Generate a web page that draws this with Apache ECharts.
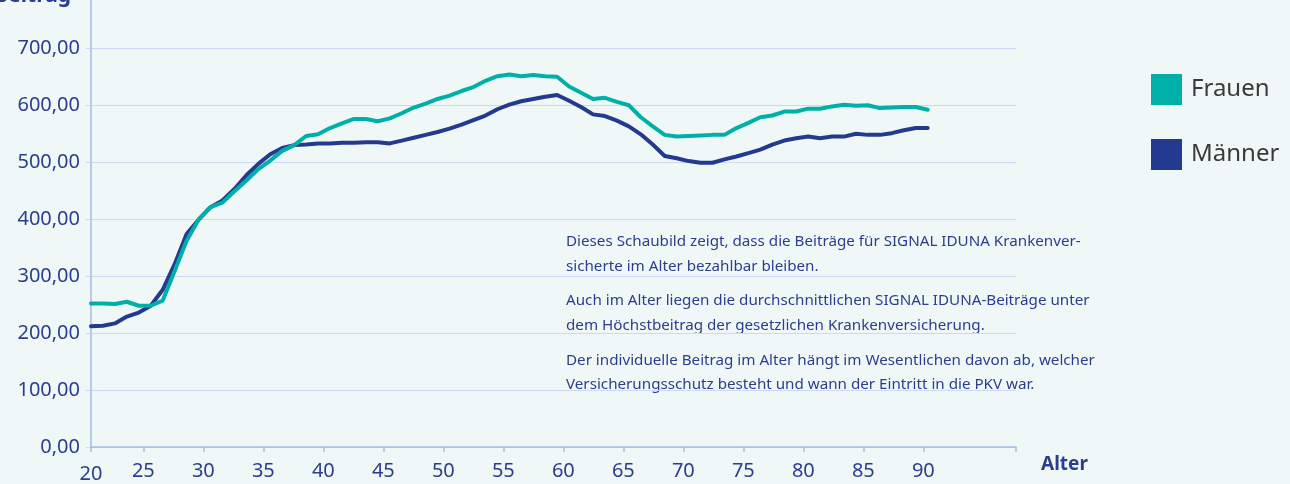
<!DOCTYPE html>
<html>
<head>
<meta charset="utf-8">
<script src="https://cdn.jsdelivr.net/npm/echarts@6/dist/echarts.min.js"></script>
<style>
  html, body { margin: 0; padding: 0; background: #f0f8f7; }
  #chart { width: 1290px; height: 484px; }
</style>
</head>
<body>
<div id="chart"></div>
<script>
// ---- data ----
const ages = [20,21,22,23,24,25,26,27,28,29,30,31,32,33,34,35,36,37,38,39,40,41,42,43,44,45,46,47,48,49,50,51,52,53,54,55,56,57,58,59,60,61,62,63,64,65,66,67,68,69,70,71,72,73,74,75,76,77,78,79,80,81,82,83,84,85,86,87,88,89,90];
const frauen = [252,252,251,255,248,248,257,309,362,399,421,429,449,468,488,503,520,530,546,549,560,568,576,576,572,577,586,596,603,611,617,625,632,643,651,654,651,653,651,650,633,622,611,613,606,600,579,563,548,545,546,547,548,548,560,569,579,582,589,589,594,594,598,601,599,600,595,596,597,597,592];
const maenner = [212,213,217,229,236,248,276,321,374,399,421,433,453,477,497,514,525,530,531,533,533,534,534,535,535,533,538,543,548,553,559,566,574,582,593,601,607,611,615,618,608,597,584,581,573,563,549,531,511,507,502,499,499,505,510,516,522,531,538,542,545,542,545,545,550,548,548,551,556,560,560];
const xTickLabels = [20,25,30,35,40,45,50,55,60,65,70,75,80,85,90];
const yTicks = [0,100,200,300,400,500,600,700];
const seriesNames = ['Frauen','Männer'];
const notes = [
  'Dieses Schaubild zeigt, dass die Beiträge für SIGNAL IDUNA Krankenver-',
  'sicherte im Alter bezahlbar bleiben.',
  'Auch im Alter liegen die durchschnittlichen SIGNAL IDUNA-Beiträge unter',
  'dem Höchstbeitrag der gesetzlichen Krankenversicherung.',
  'Der individuelle Beitrag im Alter hängt im Wesentlichen davon ab, welcher',
  'Versicherungsschutz besteht und wann der Eintritt in die PKV war.'
];

// ---- styles ----
const FONT = '"Noto Sans", "DejaVu Sans", sans-serif';
const NAVY_TEXT = '#2b3d8f';
const TEAL = '#00b0a8';
const NAVY = '#243a8e';
const GRID = '#cfd8f2';
const AXIS = '#a4bde4';

const axisStart = 20.64, axisEnd = 97.72;   // displayed axis range
const labelVals = xTickLabels.map((v, i) => i === 0 ? axisStart : v);

const chart = echarts.init(document.getElementById('chart'), null, {renderer: 'canvas'});

const noteY = [242, 267, 301, 326, 361, 385];

chart.setOption({
  backgroundColor: '#f0f8f7',
  animation: false,
  textStyle: { fontFamily: FONT },
  grid: { left: 91, right: 274, top: 48.3, bottom: 36, containLabel: false },
  legend: {
    orient: 'vertical', left: 1151, top: 74, padding: 0,
    itemWidth: 31, itemHeight: 31, itemGap: 34, icon: 'rect',
    textStyle: { fontSize: 24, color: '#3a3a3a', fontFamily: FONT, padding: [0,0,0,4] },
    data: seriesNames
  },
  xAxis: [
    {
      type: 'value', min: axisStart, max: axisEnd,
      name: 'Alter', nameLocation: 'end', nameGap: 25,
      nameTextStyle: { fontSize: 19, fontWeight: 'bold', color: NAVY_TEXT, verticalAlign: 'top', padding: [8,0,0,0], fontFamily: FONT },
      axisLine: { show: true, lineStyle: { color: AXIS, width: 1.5 } },
      axisTick: { show: true, length: 5, lineStyle: { color: AXIS, width: 1.5 }, customValues: labelVals.concat([axisEnd]) },
      axisLabel: {
        customValues: labelVals, margin: 14, fontSize: 20, color: NAVY_TEXT, fontFamily: FONT,
        formatter: v => v < 21 ? '{low|20}' : String(Math.round(v)),
        rich: { low: { fontSize: 20, color: NAVY_TEXT, fontFamily: FONT, padding: [3,0,0,0] } }
      },
      splitLine: { show: false }
    },
    {
      type: 'value', min: ages[0], max: 97.39, show: false
    }
  ],
  yAxis: {
    type: 'value', min: yTicks[0], max: yTicks[yTicks.length-1], interval: 100,
    axisLine: { show: true, lineStyle: { color: AXIS, width: 1.5 } },
    axisTick: { show: true, length: 5, lineStyle: { color: GRID, width: 1.2 } },
    axisLabel: { margin: 11, fontSize: 20, color: NAVY_TEXT, fontFamily: FONT,
      formatter: v => v.toFixed(2).replace('.', ',') },
    splitLine: { show: true, lineStyle: { color: GRID, width: 1.2 } }
  },
  series: [
    {
      name: seriesNames[0], type: 'line', xAxisIndex: 1, symbol: 'none',
      color: TEAL, lineStyle: { width: 4, color: TEAL, join: 'round', cap: 'round' },
      data: ages.map((a, i) => [a, frauen[i]]), z: 3
    },
    {
      name: seriesNames[1], type: 'line', xAxisIndex: 1, symbol: 'none',
      color: NAVY, lineStyle: { width: 4, color: NAVY, join: 'round', cap: 'round' },
      data: ages.map((a, i) => [a, maenner[i]]), z: 2
    }
  ],
  graphic: [
    { type: 'line', shape: { x1: 91, y1: 0, x2: 91, y2: 49 }, style: { stroke: AXIS, lineWidth: 1.5 }, silent: true },
    { type: 'text', x: 71, y: -4, style: { text: 'Beitrag', fill: NAVY_TEXT, font: 'bold 21px ' + FONT, textAlign: 'right', textVerticalAlign: 'middle' } }
  ].concat(notes.map((t, i) => ({
    type: 'text', x: 566, y: noteY[i],
    style: { text: t, fill: NAVY_TEXT, font: '15.2px ' + FONT, textAlign: 'left', textVerticalAlign: 'middle' }
  })))
});
</script>
</body>
</html>
